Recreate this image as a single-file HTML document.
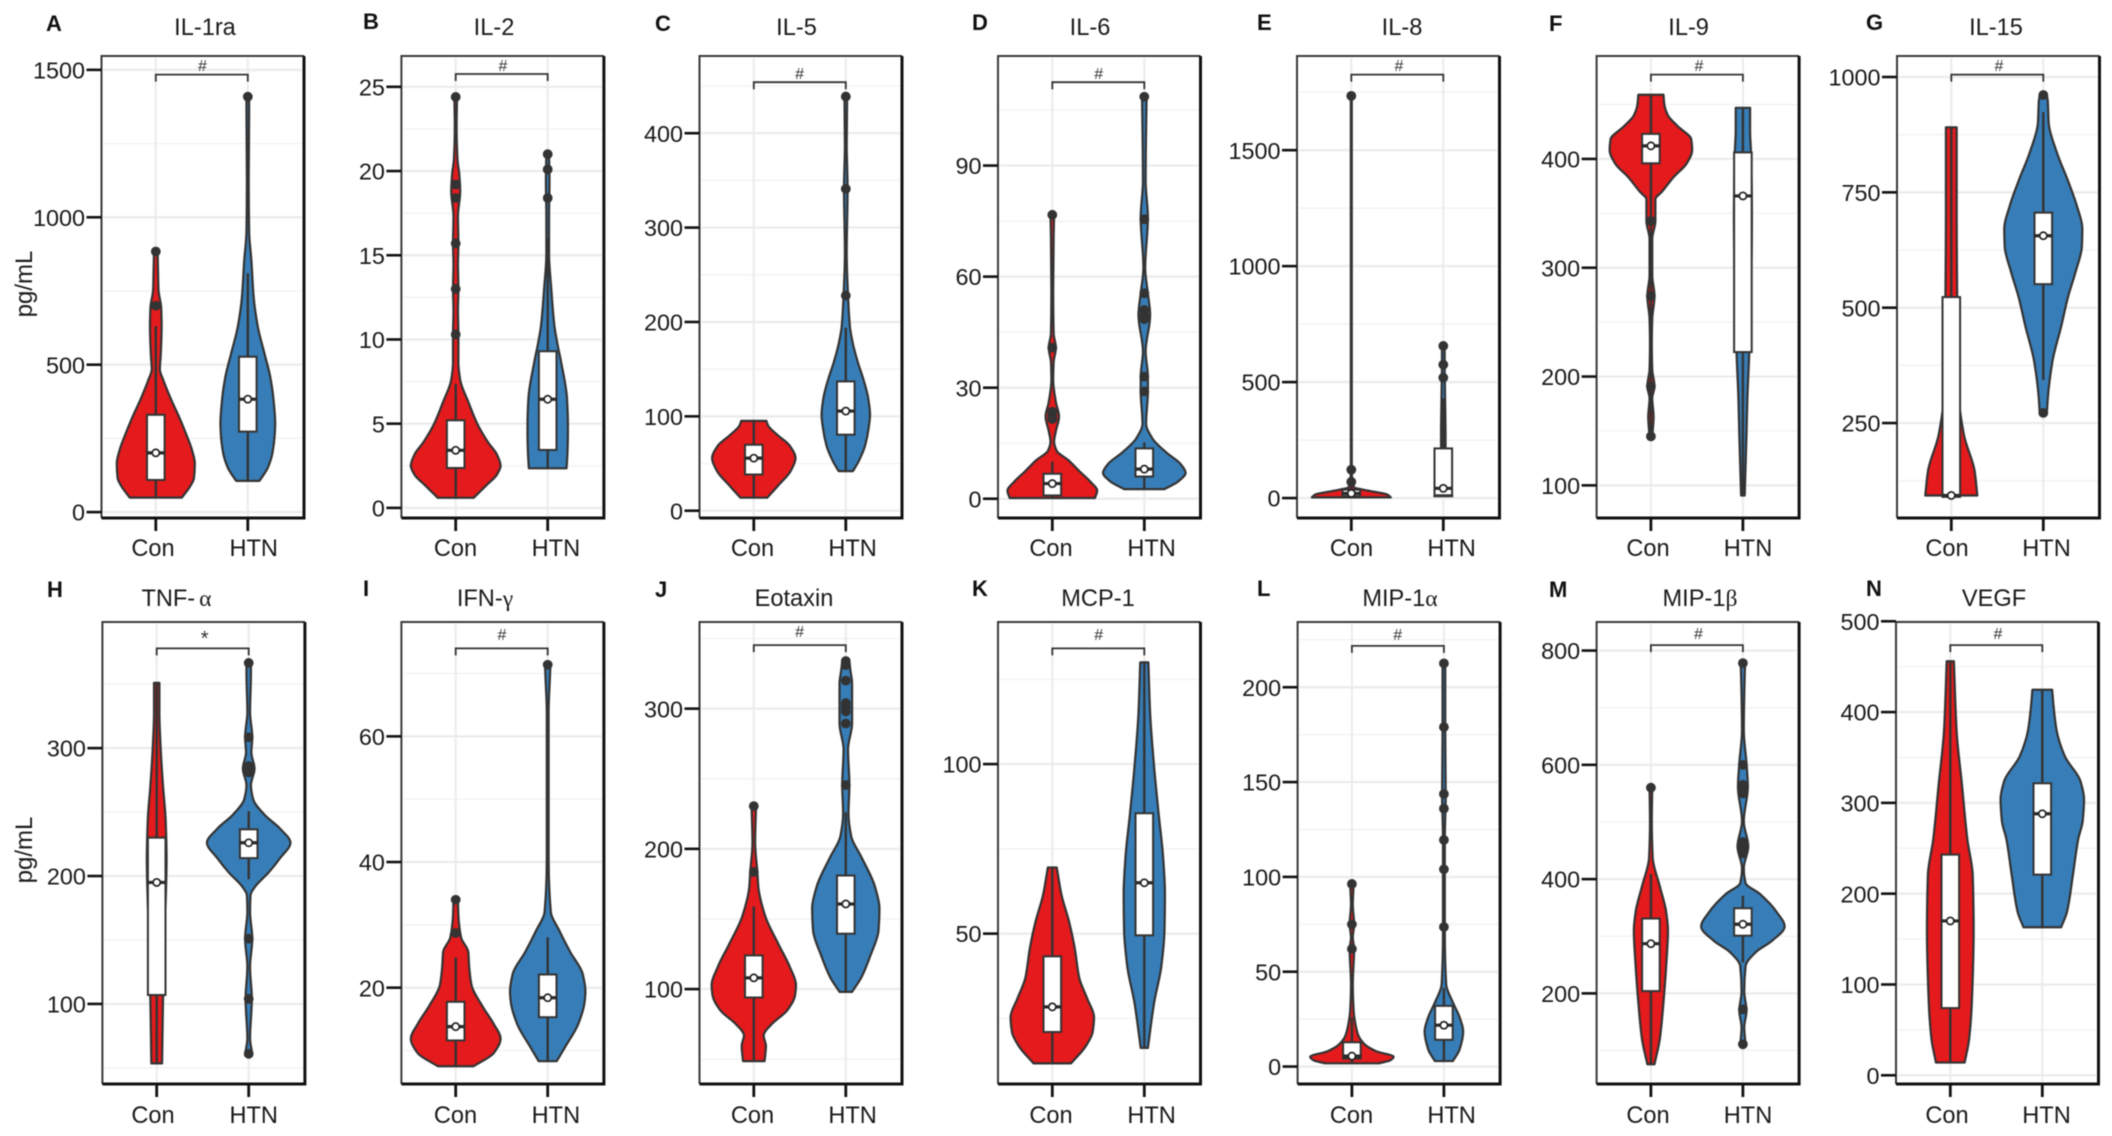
<!DOCTYPE html>
<html lang="en">
<head>
<meta charset="utf-8">
<title>Cytokine levels in Con and HTN groups</title>
<style>
html,body{margin:0;padding:0;background:#fff}
svg{display:block;filter:blur(0.4px)}
text{font-family:"Liberation Sans",Arial,sans-serif;fill:#1a1a1a}
.t{font-size:23.6px;text-anchor:middle}
.l{font-size:22px;font-weight:bold;fill:#111}
.x{font-size:23.6px;text-anchor:middle}
.h{font-size:16px;text-anchor:middle;fill:#333}
.g{font-family:"Liberation Serif",serif}
</style>
</head>
<body>
<svg id="figure" xmlns="http://www.w3.org/2000/svg" width="2112" height="1136" viewBox="0 0 2112 1136">
<rect width="2112" height="1136" fill="#fff"/>
<text transform="translate(32 284) rotate(-90)" font-size="24" text-anchor="middle">pg/mL</text>
<text transform="translate(32 850) rotate(-90)" font-size="24" text-anchor="middle">pg/mL</text>

<g id="panel-a">
<text class="l" x="46" y="31">A</text>
<text class="t" x="205" y="35">IL-1ra</text>
<text class="h" x="202.5" y="71">#</text>
<text class="x" x="153" y="556">Con</text>
<text class="x" x="253.7" y="556">HTN</text>
</g>
<g id="panel-b">
<text class="l" x="363" y="29">B</text>
<text class="t" x="494" y="35">IL-2</text>
<text class="h" x="503" y="71">#</text>
<text class="x" x="455.5" y="556">Con</text>
<text class="x" x="555.9" y="556">HTN</text>
</g>
<g id="panel-c">
<text class="l" x="655" y="31">C</text>
<text class="t" x="796.5" y="35">IL-5</text>
<text class="h" x="799.6" y="79">#</text>
<text class="x" x="752.5" y="556">Con</text>
<text class="x" x="852.6" y="556">HTN</text>
</g>
<g id="panel-d">
<text class="l" x="972" y="30">D</text>
<text class="t" x="1090" y="35">IL-6</text>
<text class="h" x="1098.7" y="79">#</text>
<text class="x" x="1051" y="556">Con</text>
<text class="x" x="1151.6" y="556">HTN</text>
</g>
<g id="panel-e">
<text class="l" x="1257" y="30">E</text>
<text class="t" x="1402" y="35">IL-8</text>
<text class="h" x="1399" y="71">#</text>
<text class="x" x="1351.5" y="556">Con</text>
<text class="x" x="1451.6" y="556">HTN</text>
</g>
<g id="panel-f">
<text class="l" x="1549" y="31">F</text>
<text class="t" x="1688.6" y="35">IL-9</text>
<text class="h" x="1699" y="71">#</text>
<text class="x" x="1648" y="556">Con</text>
<text class="x" x="1748" y="556">HTN</text>
</g>
<g id="panel-g">
<text class="l" x="1866" y="30">G</text>
<text class="t" x="1996" y="35">IL-15</text>
<text class="h" x="1999" y="71">#</text>
<text class="x" x="1947" y="556">Con</text>
<text class="x" x="2046.5" y="556">HTN</text>
</g>
<g id="panel-h">
<text class="l" x="47" y="597">H</text>
<text class="t" x="176.5" y="606">TNF-<tspan class="g" dx="4">α</tspan></text>
<text class="h" x="204.7" y="645" style="font-size:20px">*</text>
<text class="x" x="153" y="1123">Con</text>
<text class="x" x="253.7" y="1123">HTN</text>
</g>
<g id="panel-i">
<text class="l" x="363" y="596">I</text>
<text class="t" x="485" y="606">IFN-<tspan class="g">γ</tspan></text>
<text class="h" x="502" y="640">#</text>
<text class="x" x="455.5" y="1123">Con</text>
<text class="x" x="555.9" y="1123">HTN</text>
</g>
<g id="panel-j">
<text class="l" x="655" y="597">J</text>
<text class="t" x="794" y="606">Eotaxin</text>
<text class="h" x="799.6" y="637">#</text>
<text class="x" x="752.5" y="1123">Con</text>
<text class="x" x="852.6" y="1123">HTN</text>
</g>
<g id="panel-k">
<text class="l" x="972" y="596">K</text>
<text class="t" x="1098" y="606">MCP-1</text>
<text class="h" x="1098.7" y="640">#</text>
<text class="x" x="1051" y="1123">Con</text>
<text class="x" x="1151.6" y="1123">HTN</text>
</g>
<g id="panel-l">
<text class="l" x="1257" y="596">L</text>
<text class="t" x="1400" y="606">MIP-1<tspan class="g">α</tspan></text>
<text class="h" x="1397.7" y="640">#</text>
<text class="x" x="1351.5" y="1123">Con</text>
<text class="x" x="1451.6" y="1123">HTN</text>
</g>
<g id="panel-m">
<text class="l" x="1549" y="597">M</text>
<text class="t" x="1700" y="606">MIP-1<tspan class="g">β</tspan></text>
<text class="h" x="1698.5" y="639">#</text>
<text class="x" x="1648" y="1123">Con</text>
<text class="x" x="1748" y="1123">HTN</text>
</g>
<g id="panel-n">
<text class="l" x="1866" y="596">N</text>
<text class="t" x="1994" y="606">VEGF</text>
<text class="h" x="1998" y="639">#</text>
<text class="x" x="1947" y="1123">Con</text>
<text class="x" x="2046.5" y="1123">HTN</text>
</g>
</svg>
<script>
// Each group: levels (pg/mL), density (relative half-width), box [low whisker, q1, median, q3, high whisker], outliers
const il1raTicks=[0,500,1000,1500];
const il1raDomain=[-20,1547];
const il1raConLevels=[49,91,115,165,214,263,312,386,447,484,533,631,693,754,816,884];
const il1raConDensity=[58,78,85,87,80,68,55,33,17,9,11,13,12,6,5,4];
const il1raConBox=[49,109,201,330,631];
const il1raConOutliers=[884,700];
const il1raHtnLevels=[106,152,201,263,300,386,459,533,631,730,853,951,1123,1369,1409];
const il1raHtnDensity=[26,45,55,60,61,57,50,38,22,13,8,3,2,3,3];
const il1raHtnBox=[106,273,383,527,810];
const il1raHtnOutliers=[1409];

const il2Ticks=[0,5,10,15,20,25];
const il2Domain=[-0.6,26.83];
const il2ConLevels=[0.6,1.33,1.98,2.5,3.16,3.9,5,6.3,7.6,8.6,10.3,11.7,13,14.5,15.7,17.3,18.8,19.8,20.7,22.6,24.4];
const il2ConDensity=[40,68,92,100,92,72,48,28,10,6,6,5,6,5,6,5,10,8,4,2,3];
const il2ConBox=[0.6,2.37,3.42,5.2,7.36];
const il2ConOutliers=[24.4,19.2,18.4,15.7,13,10.3];
const il2HtnLevels=[2.35,3.27,4.35,5,6.5,8.65,9.7,10.8,13,15.1,17.25,19.4,21];
const il2HtnDensity=[42,44,45,45,43,30,22,15,8,3,3,4,3];
const il2HtnBox=[2.35,3.44,6.45,9.3,16];
const il2HtnOutliers=[21,20.1,18.4];

const il5Ticks=[0,100,200,300,400];
const il5Domain=[-7.7,481.8];
const il5ConLevels=[13.8,27,42,55.7,69,80.6,90.2,95.2];
const il5ConDensity=[30,55,82,93,80,52,32,28];
const il5ConBox=[13.8,38.4,55.7,69.9,95.2];
const il5ConOutliers=[];
const il5HtnLevels=[42,53.7,69,88,101.7,119,138,157,176.6,195.8,228,272.5,341,387.7,438.8];
const il5HtnDensity=[16,30,43,51,54,50,40,27,16,9,5,2,4,2,3];
const il5HtnBox=[42,80.6,105.6,137,193.9];
const il5HtnOutliers=[438.8,341,228];

const il6Ticks=[0,30,60,90];
const il6Domain=[-5.2,119.6];
const il6ConLevels=[0.2,2.15,4.6,7.5,10.5,12.9,15.4,18.3,22.2,26.1,32,36.9,40.8,44.7,56.5,71,76.7];
const il6ConDensity=[95,100,85,60,35,10,4,8,15,8,2,3,8,3,2,3,4];
const il6ConBox=[0.2,0.9,4.1,6.75,10];
const il6ConOutliers=[76.7,40.8,23.5,22.5,21.5];
const il6HtnLevels=[2.6,4.6,7,9.5,12.4,16.3,20.3,29,33,39.8,49.6,55.5,62.3,76,85.8,108.6];
const il6HtnDensity=[45,75,92,80,50,18,4,8,8,3,13,8,2,8,3,5];
const il6HtnBox=[2.6,6,8,13.6,15.2];
const il6HtnOutliers=[108.6,75.5,55.5,51,49.5,48.5,33,29];

const il8Ticks=[0,500,1000,1500];
const il8Domain=[-86,1906];
const il8ConLevels=[3,15.6,31,47,117,586,1734];
const il8ConDensity=[88,80,40,6,1,1,1];
const il8ConBox=[3,8,20,36,50];
const il8ConOutliers=[1734,122,70];
const il8HtnLevels=[8,39,117,273,430,586,656];
const il8HtnDensity=[20,10,5,5,4,3,3];
const il8HtnBox=[8,12,42,214,430];
const il8HtnOutliers=[656,575,519];

const il9Ticks=[100,200,300,400];
const il9Domain=[70,494.6];
const il9ConLevels=[145,163,180,191,206.6,230,253,274,293,326.5,343,363,370,383,396,408,418,430,440,450,459];
const il9ConDensity=[3,6,3,8,3,2,3,8,3,3,10,10,25,50,80,92,90,60,38,30,28];
const il9ConBox=[145,396,412,423,459];
const il9ConOutliers=[145,191,274,343];
const il9HtnLevels=[90.7,146.6,180,220,280,346,406,426,447];
const il9HtnDensity=[4,8,10,14,18,20,18,16,16];
const il9HtnBox=[90.7,222.5,366,406,447];
const il9HtnOutliers=[];

const il15Ticks=[250,500,750,1000];
const il15Domain=[44.2,1045.5];
const il15ConLevels=[93,146,225,303,421,539,696,891];
const il15ConDensity=[58,52,28,17,14,13,12,12];
const il15ConBox=[93,90,93,523,891];
const il15ConOutliers=[];
const il15HtnLevels=[272,303,382,460,523,578,633,672,720,775,837,900,947,961];
const il15HtnDensity=[8,10,20,40,55,72,86,87,75,55,30,12,10,8];
const il15HtnBox=[343,551,656,706,924];
const il15HtnOutliers=[961,272];

const tnfTicks=[100,200,300];
const tnfDomain=[37.4,398.6];
const tnfConLevels=[53.5,101,158,214,243,271,299,328,351];
const tnfConDensity=[12,14,18,22,20,14,9,6,6];
const tnfConBox=[53.5,107,195,230,351];
const tnfConOutliers=[];
const tnfHtnLevels=[61,73,104,129,151,172,185,192,203,214,226,237,248,260,271,284,296.6,308.5,328,359,366.6];
const tnfHtnDensity=[8,3,7,3,8,3,4,15,45,70,93,70,35,10,5,13,6,8,3,5,5];
const tnfHtnBox=[197.5,214,226,236.5,250.7];
const tnfHtnOutliers=[366.6,308.5,286,283,281,151,104,61];

const ifnTicks=[20,40,60];
const ifnDomain=[4.67,78.2];
const ifnConLevels=[7.5,9.6,11.9,14.2,17,20.5,23.4,25.7,28,31.5,34];
const ifnConDensity=[40,85,100,85,60,35,30,28,12,6,5];
const ifnConBox=[7.5,11.6,13.8,17.75,24.8];
const ifnConOutliers=[34,28.7];
const ifnHtnLevels=[8.3,10.7,14.2,17.6,19.4,22.2,25.7,29.2,32,40.7,63.7,69.5,71.4];
const ifnHtnDensity=[20,40,68,82,84,78,50,25,7,2,2,5,6];
const ifnHtnBox=[8.3,15.3,18.4,22.1,28];
const ifnHtnOutliers=[71.4];

const eotaxinTicks=[100,200,300];
const eotaxinDomain=[32.3,361.8];
const eotaxinConLevels=[48.6,59.4,67,75,85,95.6,103,116,132,152.5,173,183.5,204,230.5];
const eotaxinConDensity=[24,27,22,40,75,92,94,80,55,25,10,8,3,5];
const eotaxinConBox=[48.6,94,108,124,159];
const eotaxinConOutliers=[230.5,183.5];
const eotaxinHtnLevels=[98,108.5,124,142,157.6,173,194,209,225,245.5,271,289.4,302,317.8,328,334];
const eotaxinHtnDensity=[14,35,55,73,75,65,35,12,6,8,5,14,14,14,10,8];
const eotaxinHtnBox=[98,139.5,160.7,181,226];
const eotaxinHtnOutliers=[334,331,320,304,301,298,289.4,245.5];

const mcpTicks=[50,100];
const mcpDomain=[5.66,141.9];
const mcpConLevels=[11.75,16.9,21,25.4,30.8,37,45.7,53.2,61.75,69.5];
const mcpConDensity=[42,75,90,93,78,60,50,38,20,10];
const mcpConBox=[11.75,21,28.4,43.3,69.5];
const mcpConOutliers=[];
const mcpHtnLevels=[16.3,29.7,40.4,51,61.75,72.4,85.3,99,115,130];
const mcpHtnDensity=[8,22,38,45,46,42,32,22,13,9];
const mcpHtnBox=[16.3,49.5,65,85.5,130];
const mcpHtnOutliers=[];

const mip1aTicks=[0,50,100,150,200];
const mip1aDomain=[-9.2,234.4];
const mip1aConLevels=[1.7,3.2,5.2,8,11.8,16.6,22.3,29,43.4,62,68,75,85.4,96.3];
const mip1aConDensity=[60,85,93,55,28,14,8,4,2,5,2,5,2,4];
const mip1aConBox=[1.7,4.2,5.5,12.8,26];
const mip1aConOutliers=[96.3,75,62];
const mip1aHtnLevels=[2.9,9,18.5,26,33.8,43.4,72,104.5,119.8,142.7,179,212.6];
const mip1aHtnDensity=[20,35,43,35,20,5,2,2,2,4,3,3];
const mip1aHtnBox=[2.9,14.1,21.8,32,41.5];
const mip1aHtnOutliers=[212.6,179,143.7,136,119.5,104,73.6];

const mip1bTicks=[200,400,600,800];
const mip1bDomain=[41.4,850];
const mip1bConLevels=[76,120.7,184,247.6,311,342.7,387,438,501,560];
const mip1bConDensity=[8,20,28,34,38,34,20,4,2,3];
const mip1bConBox=[76,204,287,331,409];
const mip1bConOutliers=[560];
const mip1bHtnLevels=[111,140,170,203,247.6,273,292,317,342.7,374,393,419,457,501,561.5,603,660,755,778];
const mip1bHtnDensity=[6,3,8,3,6,30,65,93,75,38,6,2,12,2,11,8,2,4,5];
const mip1bHtnBox=[254,301,321,349,371];
const mip1bHtnOutliers=[778,600,565,557,550,465,455,445,172,111];

const vegfTicks=[0,100,200,300,400,500];
const vegfDomain=[-9.6,499.2];
const vegfConLevels=[14,40,80,160,220,260,320,379.5,456];
const vegfConDensity=[32,42,48,52,50,38,26,14,8];
const vegfConBox=[14,74,170,243,456];
const vegfConOutliers=[];
const vegfHtnLevels=[163,180,220,260,280,304,324,351.5,379.5,407,424.6];
const vegfHtnDensity=[42,55,68,80,90,93,85,50,32,25,22];
const vegfHtnBox=[163,221,288,321.6,424.6];
const vegfHtnOutliers=[];

const panels=[
 {id:'panel-a',key:'il-1ra',left:101.5,row:0,bracket:74.6,ticks:il1raTicks,domain:il1raDomain,con:[il1raConLevels,il1raConDensity,il1raConBox,il1raConOutliers],htn:[il1raHtnLevels,il1raHtnDensity,il1raHtnBox,il1raHtnOutliers]},
 {id:'panel-b',key:'il-2',left:401.4,row:0,bracket:74,ticks:il2Ticks,domain:il2Domain,con:[il2ConLevels,il2ConDensity,il2ConBox,il2ConOutliers],htn:[il2HtnLevels,il2HtnDensity,il2HtnBox,il2HtnOutliers]},
 {id:'panel-c',key:'il-5',left:699.5,row:0,bracket:82.2,ticks:il5Ticks,domain:il5Domain,con:[il5ConLevels,il5ConDensity,il5ConBox,il5ConOutliers],htn:[il5HtnLevels,il5HtnDensity,il5HtnBox,il5HtnOutliers]},
 {id:'panel-d',key:'il-6',left:998,row:0,bracket:82.2,ticks:il6Ticks,domain:il6Domain,con:[il6ConLevels,il6ConDensity,il6ConBox,il6ConOutliers],htn:[il6HtnLevels,il6HtnDensity,il6HtnBox,il6HtnOutliers]},
 {id:'panel-e',key:'il-8',left:1297,row:0,bracket:74.6,ticks:il8Ticks,domain:il8Domain,con:[il8ConLevels,il8ConDensity,il8ConBox,il8ConOutliers],htn:[il8HtnLevels,il8HtnDensity,il8HtnBox,il8HtnOutliers]},
 {id:'panel-f',key:'il-9',left:1596.6,row:0,bracket:74.6,ticks:il9Ticks,domain:il9Domain,con:[il9ConLevels,il9ConDensity,il9ConBox,il9ConOutliers],htn:[il9HtnLevels,il9HtnDensity,il9HtnBox,il9HtnOutliers]},
 {id:'panel-g',key:'il-15',left:1897,row:0,bracket:74.6,ticks:il15Ticks,domain:il15Domain,con:[il15ConLevels,il15ConDensity,il15ConBox,il15ConOutliers],htn:[il15HtnLevels,il15HtnDensity,il15HtnBox,il15HtnOutliers]},
 {id:'panel-h',key:'tnf-alpha',left:102.4,row:1,bracket:648.4,ticks:tnfTicks,domain:tnfDomain,con:[tnfConLevels,tnfConDensity,tnfConBox,tnfConOutliers],htn:[tnfHtnLevels,tnfHtnDensity,tnfHtnBox,tnfHtnOutliers]},
 {id:'panel-i',key:'ifn-gamma',left:401.4,row:1,bracket:648.4,ticks:ifnTicks,domain:ifnDomain,con:[ifnConLevels,ifnConDensity,ifnConBox,ifnConOutliers],htn:[ifnHtnLevels,ifnHtnDensity,ifnHtnBox,ifnHtnOutliers]},
 {id:'panel-j',key:'eotaxin',left:699.5,row:1,bracket:645.1,ticks:eotaxinTicks,domain:eotaxinDomain,con:[eotaxinConLevels,eotaxinConDensity,eotaxinConBox,eotaxinConOutliers],htn:[eotaxinHtnLevels,eotaxinHtnDensity,eotaxinHtnBox,eotaxinHtnOutliers]},
 {id:'panel-k',key:'mcp-1',left:998,row:1,bracket:648.4,ticks:mcpTicks,domain:mcpDomain,con:[mcpConLevels,mcpConDensity,mcpConBox,mcpConOutliers],htn:[mcpHtnLevels,mcpHtnDensity,mcpHtnBox,mcpHtnOutliers]},
 {id:'panel-l',key:'mip-1-alpha',left:1297.6,row:1,bracket:645.9,ticks:mip1aTicks,domain:mip1aDomain,con:[mip1aConLevels,mip1aConDensity,mip1aConBox,mip1aConOutliers],htn:[mip1aHtnLevels,mip1aHtnDensity,mip1aHtnBox,mip1aHtnOutliers]},
 {id:'panel-m',key:'mip-1-beta',left:1596.6,row:1,bracket:645.1,ticks:mip1bTicks,domain:mip1bDomain,con:[mip1bConLevels,mip1bConDensity,mip1bConBox,mip1bConOutliers],htn:[mip1bHtnLevels,mip1bHtnDensity,mip1bHtnBox,mip1bHtnOutliers]},
 {id:'panel-n',key:'vegf',left:1896,row:1,bracket:645.1,ticks:vegfTicks,domain:vegfDomain,con:[vegfConLevels,vegfConDensity,vegfConBox,vegfConOutliers],htn:[vegfHtnLevels,vegfHtnDensity,vegfHtnBox,vegfHtnOutliers]}
];

const NS='http://www.w3.org/2000/svg';
const PANEL_W=202.5, CAT_STEP=92, CON_OFFSET=54.3, DENSITY_PX=92/205;
const ROW_TOP=[56,622], ROW_BOTTOM=[518,1084];
const STROKE='#333';
const FILLS={con:'#E41A1C',htn:'#377EB8'};

function add(parent,tag,attrs){
  const n=document.createElementNS(NS,tag);
  for(const k in attrs){n.setAttribute(k,attrs[k]);}
  parent.appendChild(n);
  return n;
}
function smoothSlopes(ys,hw){
  const n=ys.length, sec=[], gap=[], slope=[];
  for(let i=0;i<n-1;i++){
    gap.push(Math.abs(ys[i+1]-ys[i]));
    sec.push((hw[i+1]-hw[i])/(ys[i+1]-ys[i]));
  }
  slope.push(sec[0]);
  for(let i=1;i<n-1;i++){
    if(sec[i-1]*sec[i]<=0){slope.push(0);continue;}
    const w1=2*gap[i]+gap[i-1], w2=gap[i]+2*gap[i-1];
    slope.push((w1+w2)/(w1/sec[i-1]+w2/sec[i]));
  }
  slope.push(sec[n-2]);
  return slope;
}
function violinPath(levels,density,xc,yScale){
  const n=levels.length;
  const ys=levels.map(yScale);
  const hw=density.map(function(d){return d*DENSITY_PX;});
  const slope=smoothSlopes(ys,hw);
  let d='M'+(xc+hw[0]).toFixed(2)+' '+ys[0].toFixed(2);
  for(let i=0;i<n-1;i++){
    const dy=ys[i+1]-ys[i];
    const x1=hw[i]+slope[i]*dy/3, x2=hw[i+1]-slope[i+1]*dy/3;
    d+='C'+(xc+x1).toFixed(2)+' '+(ys[i]+dy/3).toFixed(2)+' '+(xc+x2).toFixed(2)+' '+(ys[i+1]-dy/3).toFixed(2)+' '+(xc+hw[i+1]).toFixed(2)+' '+ys[i+1].toFixed(2);
  }
  d+='L'+(xc-hw[n-1]).toFixed(2)+' '+ys[n-1].toFixed(2);
  for(let i=n-1;i>0;i--){
    const dy=ys[i-1]-ys[i];
    const x1=hw[i]+slope[i]*dy/3, x2=hw[i-1]-slope[i-1]*dy/3;
    d+='C'+(xc-x1).toFixed(2)+' '+(ys[i]+dy/3).toFixed(2)+' '+(xc-x2).toFixed(2)+' '+(ys[i-1]-dy/3).toFixed(2)+' '+(xc-hw[i-1]).toFixed(2)+' '+ys[i-1].toFixed(2);
  }
  return d+'Z';
}
function drawGroup(g,p,group,name,xc,yScale){
  const levels=group[0], density=group[1], box=group[2], outliers=group[3];
  const v=add(g,'path',{d:violinPath(levels,density,xc,yScale),fill:FILLS[name],stroke:STROKE,'stroke-width':2.2,'stroke-linejoin':'round'});
  
  
  const w=add(g,'line',{x1:xc,x2:xc,y1:yScale(box[0]),y2:yScale(box[4]),stroke:STROKE,'stroke-width':2.4});
  
  
  const b=add(g,'rect',{x:xc-8.8,width:17.6,y:yScale(box[3]),height:Math.max(0.5,yScale(box[1])-yScale(box[3])),fill:'#fff',stroke:STROKE,'stroke-width':2});
  
  
  outliers.forEach(function(val){
    const o=add(g,'circle',{cx:xc,cy:yScale(val),r:4.9,fill:'#333'});
    
    
  });
  const m=add(g,'line',{x1:xc-8.8,x2:xc+8.8,y1:yScale(box[2]),y2:yScale(box[2]),stroke:'#2a2a2a','stroke-width':3.2});
  
  
  const c=add(g,'circle',{cx:xc,cy:yScale(box[2]),r:3.6,fill:'#fff',stroke:'#222','stroke-width':1.7});
  
  
}
panels.forEach(function(p){
  const host=document.getElementById(p.id);
  const g=document.createElementNS(NS,'g');
  
  
  host.insertBefore(g,host.firstChild);
  const top=ROW_TOP[p.row], bottom=ROW_BOTTOM[p.row], left=p.left, right=p.left+PANEL_W;
  const yScale=function(v){return bottom-(v-p.domain[0])/(p.domain[1]-p.domain[0])*(bottom-top);};
  const xScale=function(i){return left+CON_OFFSET+i*CAT_STEP;};
  const step=p.ticks[1]-p.ticks[0];
  for(let v=p.ticks[0]-step/2;v<p.domain[1];v+=step){
    if(v<=p.domain[0]){continue;}
    const minor=add(g,'line',{x1:left+2,x2:right-2,y1:yScale(v),y2:yScale(v),stroke:'#f0f0f0','stroke-width':1.2});
    
    
  }
  p.ticks.forEach(function(v){
    const major=add(g,'line',{x1:left+2,x2:right-2,y1:yScale(v),y2:yScale(v),stroke:'#ebebeb','stroke-width':2.2});
    
    
  });
  [0,1].forEach(function(i){
    const vg=add(g,'line',{x1:xScale(i),x2:xScale(i),y1:top+2,y2:bottom-2,stroke:'#ebebeb','stroke-width':2});
    
    
  });
  drawGroup(g,p,p.con,'con',xScale(0),yScale);
  drawGroup(g,p,p.htn,'htn',xScale(1),yScale);
  const br=add(g,'path',{d:'M'+xScale(0)+' '+(p.bracket+7)+'V'+p.bracket+'H'+xScale(1)+'V'+(p.bracket+7),fill:'none',stroke:'#333','stroke-width':1.8});
  
  
  const frame=add(g,'path',{d:'M'+left+' '+bottom+'V'+top+'H'+right,fill:'none',stroke:'#3a3a3a','stroke-width':2});
  
  
  const frame2=add(g,'path',{d:'M'+left+' '+bottom+'H'+right+'V'+top,fill:'none',stroke:'#111','stroke-width':3});
  
  
  p.ticks.forEach(function(v){
    const t=add(g,'line',{x1:left-15,x2:left,y1:yScale(v),y2:yScale(v),stroke:'#111','stroke-width':2.6});
    
    
    const lab=add(g,'text',{x:left-16.5,y:yScale(v)+8.6,'text-anchor':'end','font-size':23.4});
    
    
    lab.textContent=String(v);
  });
  [0,1].forEach(function(i){
    const xt=add(g,'line',{x1:xScale(i),x2:xScale(i),y1:bottom,y2:bottom+13,stroke:'#111','stroke-width':2.8});
    
    
  });
});
</script>
</body>
</html>
